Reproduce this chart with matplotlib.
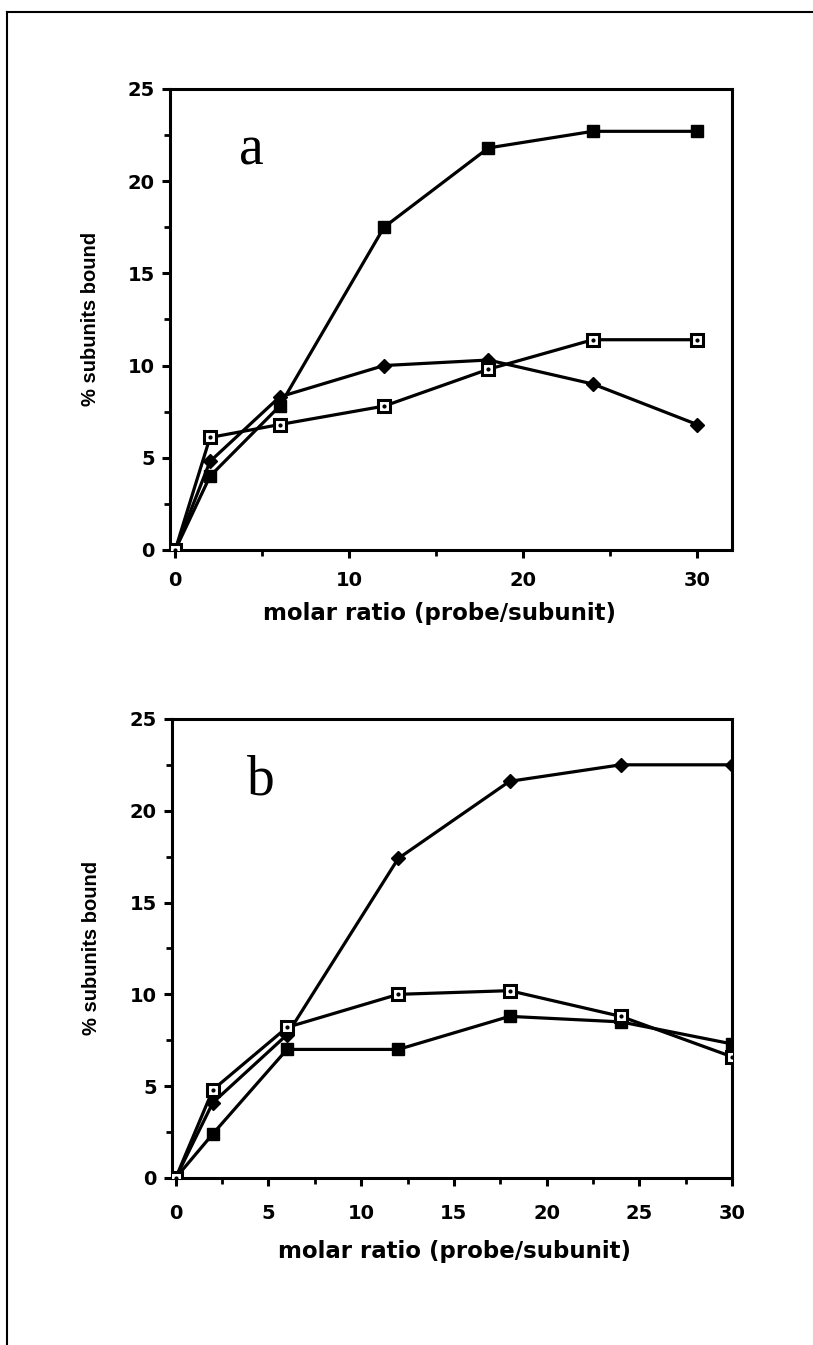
import matplotlib.pyplot as plt
from matplotlib.lines import Line2D
from matplotlib.ticker import MultipleLocator

plt.rcParams['font.family'] = 'Liberation Sans'
plt.rcParams['font.weight'] = 'bold'

# molar ratio (probe/subunit)
ratio = [0, 2, 6, 12, 18, 24, 30]

# panel a
a_filled_sq = [0, 4.0, 7.8, 17.5, 21.8, 22.7, 22.7]
a_open_sq = [0, 6.1, 6.8, 7.8, 9.8, 11.4, 11.4]
a_diamond = [0, 4.8, 8.3, 10.0, 10.3, 9.0, 6.8]

# panel b
b_diamond = [0, 4.1, 7.8, 17.4, 21.6, 22.5, 22.5]
b_open_sq = [0, 4.8, 8.2, 10.0, 10.2, 8.8, 6.6]
b_filled_sq = [0, 2.4, 7.0, 7.0, 8.8, 8.5, 7.3]

fig = plt.figure(figsize=(8.13, 13.45), dpi=100)
fig.patch.set_facecolor('white')

# outer frame (top and left edges only)
fig.add_artist(Line2D([0.009, 1.0], [0.991, 0.991], color='black', lw=1.5,
                      transform=fig.transFigure))
fig.add_artist(Line2D([0.009, 0.009], [0.0, 0.991], color='black', lw=1.5,
                      transform=fig.transFigure))

ax1 = fig.add_axes([0.2091, 0.5911, 0.6913, 0.3428])
ax2 = fig.add_axes([0.2116, 0.1242, 0.6888, 0.3413])


def filled_square(ax, x, y):
    ax.plot(x, y, '-', color='black', lw=2.3, marker='s', ms=8,
            mfc='black', mec='black', zorder=3)


def open_square(ax, x, y):
    ax.plot(x, y, '-', color='black', lw=2.3, marker='s', ms=8.5,
            mfc='white', mec='black', mew=2.2, zorder=4)
    ax.plot(x, y, ls='none', marker='o', ms=2, color='black', zorder=5)


def diamond(ax, x, y):
    ax.plot(x, y, '-', color='black', lw=2.3, marker='D', ms=7,
            mfc='black', mec='black', zorder=3)


filled_square(ax1, ratio, a_filled_sq)
diamond(ax1, ratio, a_diamond)
open_square(ax1, ratio, a_open_sq)

diamond(ax2, ratio, b_diamond)
filled_square(ax2, ratio, b_filled_sq)
open_square(ax2, ratio, b_open_sq)

ax1.set_xlim(-0.3, 32)
ax1.xaxis.set_major_locator(MultipleLocator(10))
ax1.xaxis.set_minor_locator(MultipleLocator(5))
ax2.set_xlim(-0.2, 30)
ax2.xaxis.set_major_locator(MultipleLocator(5))
ax2.xaxis.set_minor_locator(MultipleLocator(2.5))

tick_font = {'family': 'DejaVu Sans', 'weight': 'bold', 'size': 14}

for ax, lab, xl in [(ax1, 'a', 4.4), (ax2, 'b', 4.6)]:
    ax.set_ylim(0, 25)
    ax.yaxis.set_major_locator(MultipleLocator(5))
    ax.yaxis.set_minor_locator(MultipleLocator(2.5))
    for s in ax.spines.values():
        s.set_linewidth(2.2)
    ax.tick_params(which='major', direction='out', length=6, width=2.2)
    ax.tick_params(which='minor', direction='out', length=4, width=2)
    ax.tick_params(axis='y', pad=5)
    ax.set_ylabel('% subunits bound', fontsize=14.5, fontweight='bold')
    ax.set_xlabel('molar ratio (probe/subunit)', family='DejaVu Sans',
                  fontsize=16.5, fontweight='bold')
    ax.text(xl, 20.9, lab, family='Liberation Serif', fontweight='normal',
            fontsize=40, ha='center', va='baseline')
    for t in ax.get_xticklabels() + ax.get_yticklabels():
        t.set_fontproperties(tick_font)

ax1.tick_params(axis='x', pad=9)
ax2.tick_params(axis='x', pad=13)
ax1.yaxis.set_label_coords(-0.125, 0.5)
ax2.yaxis.set_label_coords(-0.127, 0.5)
ax1.xaxis.set_label_coords(0.48, -0.112)
ax2.xaxis.set_label_coords(0.505, -0.135)

fig.savefig('out.png', dpi=100, facecolor='white')
